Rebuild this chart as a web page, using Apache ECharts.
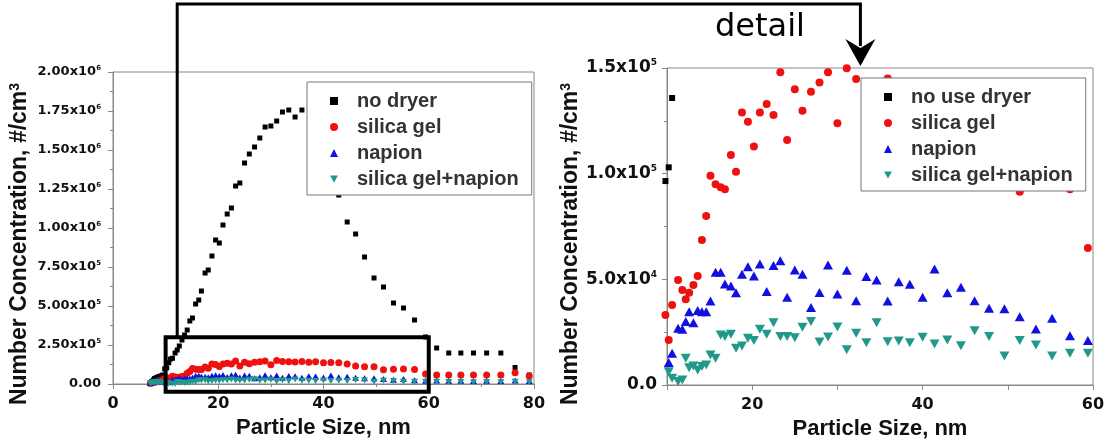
<!DOCTYPE html>
<html>
<head>
<meta charset="utf-8">
<script src="https://cdn.jsdelivr.net/npm/echarts@6/dist/echarts.min.js"></script>
<style>
  html, body { margin: 0; padding: 0; background: #fff; }
  #main { width: 1110px; height: 441px; }
</style>
</head>
<body>
<div id="main"></div>
<script>
// SMPS particle size bins, nm
var sizes = [7.10, 7.37, 7.64, 7.91, 8.20, 8.51, 8.82, 9.14, 9.47, 9.82,
  10.2, 10.6, 10.9, 11.3, 11.8, 12.2, 12.6, 13.1, 13.6, 14.1,
  14.6, 15.1, 15.7, 16.3, 16.8, 17.5, 18.1, 18.8, 19.5, 20.2,
  20.9, 21.7, 22.5, 23.3, 24.1, 25.0, 25.9, 26.9, 27.9, 28.9,
  30.0, 31.1, 32.2, 33.4, 34.6, 35.9, 37.2, 38.5, 40.0, 41.4,
  42.9, 44.5, 46.1, 47.8, 49.6, 51.4, 53.3, 55.2, 57.3, 59.4,
  61.5, 63.8, 66.1, 68.5, 71.0, 73.7, 76.4, 79.1];

// number concentration, #/cm3 (null = not visible in the picture)
var noDryer = [9000, 16000, 25600, 35300, 40000, 44900, 48000, 53000, 57700, 96500,
  103000, 135800, 160000, 165000, 198700, 218000, 243600, 282000, 314100, 346100,
  403800, 423100, 512800, 538400, 596100, 711500, 730700, 820500, 923000, 903800,
  1019200, 1089700, 1128200, 1269200, 1288400, 1416600, 1474300, 1519200, 1576900, 1647400,
  1653800, 1685800, 1743500, 1756300, 1711500, 1756300, null, null, null, null,
  1211500, 1038400, 961500, 814100, 679500, 621800, 519200, 487200, 410200, 301300,
  230800, 198700, 198700, 198700, 198700, 198700, 105800, 57700];

var silicaGel = [3000, 6000, 9000, 12000, 15000, 18000, 20000, 24000, 28000, 33100,
  21300, 37900, null, 49700, 45000, 40600, 43700, 47300, 51600, 68600,
  80000, 99000, 95000, 93600, 92600, 108800, 100900, 128900, 124600, 112800,
  128900, 133000, 127800, 148000, 115900, 139900, 129800, 138800, 143100, 148000,
  123800, 149900, 144800, 143000, 141000, 145000, 139000, 143000, 136500, 138000,
  136500, 128200, 115400, 111000, 111000, 91500, 95000, 96000, 92600, 64800,
  57700, 57700, 57700, 57700, 57700, 57700, 72400, 51300];

var napion = [6000, 12000, 17000, 20000, 22000, 21000, 19000, 16000, 14000, null,
  10600, 15000, null, 26800, 26400, 30000, 34700, 29500, 35200, 34700,
  34700, 39800, 53300, 53300, 47800, 46900, 43700, 52400, 56000, 51600,
  57300, 44200, 56500, 58800, 41500, 54400, 52400, 36700, 43800, 56800,
  43100, 54300, 39900, 51300, 49700, 39800, 48900, 47700, 41500, 54900,
  43700, 46200, 39900, 36300, 36100, 32300, 26500, 31600, 23300, 21000,
  22000, 21000, 21000, 20000, 21000, 20000, 22000, 19000];

var gelNapion = [4000, 7000, 10000, 11000, 12000, 11000, 10000, 9000, 8000, null,
  6300, 3200, null, 1600, 2400, 12600, 8200, 9000, 7100, 8700,
  9500, 14200, 12600, 23700, 22900, 24000, 17400, 18500, 22100, 21000,
  26400, 24000, 29500, 22900, 22900, 22400, 27300, 30000, 20400, 22700,
  27400, 16700, 24500, 20000, 29500, 20500, 20800, 20000, 22600, 19400,
  21300, 18600, 25700, 22900, 13700, 21000, 18900, 13700, 15000, 15000,
  14000, 13000, 13000, 12000, 13000, 12000, 14000, 11000];

var leftYTicks = [['0.00', ''], ['2.50x10', '5'], ['5.00x10', '5'], ['7.50x10', '5'],
  ['1.00x10', '6'], ['1.25x10', '6'], ['1.50x10', '6'], ['1.75x10', '6'], ['2.00x10', '6']];
var rightYTicks = [['0.0', ''], ['5.0x10', '4'], ['1.0x10', '5'], ['1.5x10', '5']];
var leftNames = ['no dryer', 'silica gel', 'napion', 'silica gel+napion'];
var rightNames = ['no use dryer', 'silica gel', 'napion', 'silica gel+napion'];

var colors = ['#000000', '#f01010', '#1010e0', '#20998a'];
var downTri = 'path://M0,0L10,0L5,9Z';

function pairs(vals, xmin, xmax, ymax) {
  var out = [];
  for (var i = 0; i < sizes.length; i++) {
    var v = vals[i];
    if (v == null || sizes[i] < xmin || sizes[i] > xmax || v > ymax) continue;
    out.push([sizes[i], v]);
  }
  return out;
}

var FONT = 'Liberation Sans';
var TICKFONT = 'DejaVu Sans';
var axisGray = '#888';

function supLabel(ticks, step) {
  return function (v) {
    var t = ticks[Math.round(v / step)];
    if (!t) return '';
    return t[1] ? '{m|' + t[0] + '}{s|' + t[1] + '}' : '{m|' + t[0] + '}';
  };
}

var chart = echarts.init(document.getElementById('main'));

var allSeries = [noDryer, silicaGel, napion, gelNapion];
var leftSym = ['rect', 'circle', 'triangle', downTri];
var leftSize = [5, 7, [7, 6], [7, 6]];
var rightSize = [6, 8, [10, 9], [10, 9]];

var series = [];
allSeries.forEach(function (vals, k) {
  series.push({
    name: leftNames[k], type: 'scatter', xAxisIndex: 0, yAxisIndex: 0,
    symbol: leftSym[k], symbolSize: leftSize[k],
    itemStyle: { color: colors[k], opacity: 1 },
    data: pairs(vals, 0, 80, 2e6)
  });
});
allSeries.forEach(function (vals, k) {
  series.push({
    name: rightNames[k], type: 'scatter', xAxisIndex: 1, yAxisIndex: 1,
    symbol: leftSym[k], symbolSize: rightSize[k], clip: false,
    itemStyle: { color: colors[k], opacity: 1 },
    data: pairs(vals, 9.8, 60, 1.5e5)
  });
});

var tickLabelX = { fontFamily: TICKFONT, fontWeight: 'bold', fontSize: 16, color: '#111', margin: 12 };
var nameStyle = { fontFamily: FONT, fontWeight: 'bold', fontSize: 22, color: '#111' };

function yName(padEnd) {
  return {
    fontFamily: FONT, fontWeight: 'bold', fontSize: 23, color: '#111',
    padding: [0, padEnd, 0, 0],
    rich: {
      a: { fontFamily: FONT, fontWeight: 'bold', fontSize: 23, color: '#111' },
      s: { fontFamily: FONT, fontWeight: 'bold', fontSize: 14, color: '#111', verticalAlign: 'top', lineHeight: 14 }
    }
  };
}

function legend(names, left, top) {
  return {
    orient: 'vertical', left: left, top: top, data: names,
    backgroundColor: '#fff', borderColor: '#777', borderWidth: 1,
    padding: [9, 13, 6, 23], itemGap: 6, itemWidth: 8, itemHeight: 8,
    selectedMode: false,
    textStyle: { fontFamily: FONT, fontWeight: 'bold', fontSize: 20, lineHeight: 20, color: '#333', padding: [0, 0, 0, 14] }
  };
}

chart.setOption({
  animation: false,
  backgroundColor: '#fff',
  grid: [
    { left: 113, top: 72, width: 421, height: 312, show: true, borderColor: axisGray, borderWidth: 1, outerBoundsMode: 'none' },
    { left: 667, top: 68, width: 426, height: 317, show: true, borderColor: axisGray, borderWidth: 1, outerBoundsMode: 'none' }
  ],
  legend: [legend(leftNames, 307, 82), legend(rightNames, 861, 78)],
  xAxis: [
    {
      type: 'value', gridIndex: 0, min: 0, max: 80, interval: 20,
      name: 'Particle Size, nm', nameLocation: 'middle', nameGap: 27, nameTextStyle: nameStyle,
      axisLine: { lineStyle: { color: axisGray } },
      axisTick: { length: 5, lineStyle: { color: axisGray } },
      minorTick: { show: true, splitNumber: 2, length: 3, lineStyle: { color: axisGray } },
      splitLine: { show: false },
      axisLabel: tickLabelX
    },
    {
      type: 'value', gridIndex: 1, min: 10, max: 60, interval: 10,
      name: 'Particle Size, nm', nameLocation: 'middle', nameGap: 26, nameTextStyle: nameStyle,
      axisLine: { lineStyle: { color: axisGray } },
      axisTick: { length: 5, lineStyle: { color: axisGray } },
      splitLine: { show: false },
      axisLabel: Object.assign({}, tickLabelX, {
        formatter: function (v) { return v % 20 === 0 ? String(v) : ''; }
      })
    }
  ],
  yAxis: [
    {
      type: 'value', gridIndex: 0, min: 0, max: 2e6, interval: 250000,
      name: 'Number Concentration, #/cm{s|3}', nameLocation: 'middle', nameGap: 82,
      nameTextStyle: yName(32),
      axisLine: { show: true, lineStyle: { color: axisGray } },
      axisTick: { show: true, length: 5, lineStyle: { color: axisGray } },
      minorTick: { show: true, splitNumber: 2, length: 3, lineStyle: { color: axisGray } },
      splitLine: { show: false },
      axisLabel: {
        margin: 12, fontFamily: TICKFONT, fontWeight: 'bold', fontSize: 13, color: '#111',
        formatter: supLabel(leftYTicks, 250000),
        rich: {
          m: { fontFamily: TICKFONT, fontWeight: 'bold', fontSize: 13, lineHeight: 15, color: '#111' },
          s: { fontFamily: TICKFONT, fontWeight: 'bold', fontSize: 7, lineHeight: 7, color: '#111', verticalAlign: 'top' }
        }
      }
    },
    {
      type: 'value', gridIndex: 1, min: 0, max: 1.5e5, interval: 50000,
      name: 'Number Concentration, #/cm{s|3}', nameLocation: 'middle', nameGap: 85,
      nameTextStyle: yName(35),
      axisLine: { show: true, lineStyle: { color: axisGray } },
      axisTick: { show: true, length: 5, lineStyle: { color: axisGray } },
      minorTick: { show: true, splitNumber: 2, length: 3, lineStyle: { color: axisGray } },
      splitLine: { show: false },
      axisLabel: {
        margin: 10, fontFamily: TICKFONT, fontWeight: 'bold', fontSize: 17, color: '#111',
        formatter: supLabel(rightYTicks, 50000),
        rich: {
          m: { fontFamily: TICKFONT, fontWeight: 'bold', fontSize: 17, lineHeight: 19, color: '#111' },
          s: { fontFamily: TICKFONT, fontWeight: 'bold', fontSize: 9, lineHeight: 9, color: '#111', verticalAlign: 'top' }
        }
      }
    }
  ],
  series: series
});

// "detail" annotation: box on the left chart, arrow into the right chart
var tl = chart.convertToPixel({ seriesIndex: 0 }, [10, 3e5]);
var br = chart.convertToPixel({ seriesIndex: 0 }, [60, -5e4]);
var sx = chart.convertToPixel({ seriesIndex: 0 }, [12.2, 0])[0];
var tip = chart.convertToPixel({ seriesIndex: 4 }, [32.7, 1.5e5]);
var tipY = tip[1] - 2;

chart.setOption({
  graphic: [
    { type: 'rect', z: 100, shape: { x: tl[0], y: tl[1], width: br[0] - tl[0], height: br[1] - tl[1] },
      style: { fill: 'none', stroke: '#000', lineWidth: 4 } },
    { type: 'polyline', z: 100, shape: { points: [[sx, tl[1]], [sx, 4], [tip[0], 4], [tip[0], tipY - 20]] },
      style: { fill: 'none', stroke: '#000', lineWidth: 3 } },
    { type: 'polygon', z: 100, shape: { points: [[tip[0], tipY], [tip[0] - 15, tipY - 27], [tip[0], tipY - 18], [tip[0] + 15, tipY - 27]] },
      style: { fill: '#000' } },
    { type: 'text', z: 100, x: 760, y: 28,
      style: { text: 'detail', fontFamily: 'DejaVu Sans', fontSize: 32, fill: '#000', align: 'center', verticalAlign: 'middle' } }
  ]
});
</script>
</body>
</html>
